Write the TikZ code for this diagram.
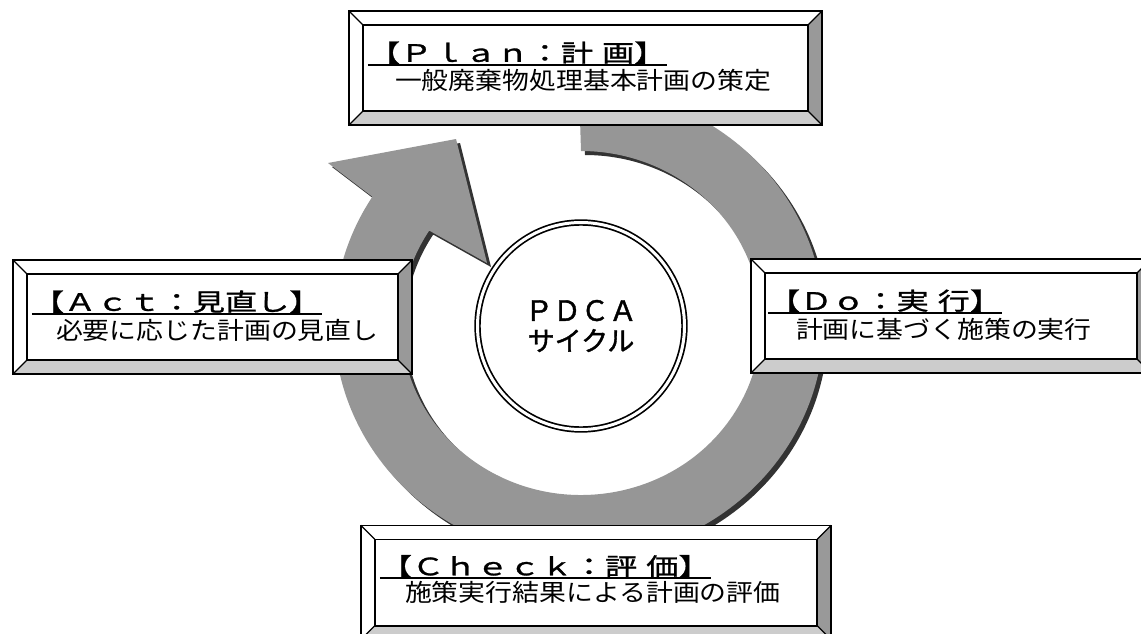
\documentclass[tikz,border=0pt]{standalone}
\usepackage{fontspec}
\newfontfamily\ttlfont[FakeStretch=1.34, FakeBold=1.2]{Noto Sans CJK JP}
\newfontfamily\subfont[FakeStretch=1.12]{Noto Sans CJK JP}
\newfontfamily\cycfont[FakeBold=1.4]{Noto Sans CJK JP}
\usetikzlibrary{calc}
\definecolor{cRing}{RGB}{150,150,150}
\definecolor{cShade}{RGB}{51,51,51}
\definecolor{cSide}{RGB}{153,153,153}
\definecolor{cFoot}{RGB}{204,204,204}

\begin{document}
\begin{tikzpicture}[
  x=1pt, y=-1pt,
  inbox/.style = {inner sep=0pt, minimum height=86pt},
  ttl/.style   = {anchor=base west, inner sep=0pt,
                  font=\ttlfont\fontsize{24}{28}\selectfont},
  sub/.style   = {anchor=base west, inner sep=0pt,
                  font=\subfont\fontsize{24}{28}\selectfont},
  frame/.style = {draw=black, line width=1.6pt},
  uline/.style = {line width=1.8pt},
  cyc/.style   = {circle, draw, fill=white, line width=1.7pt, double=white,
                  double distance=3pt, minimum size=207pt, inner sep=0pt,
                  align=center, font=\cycfont\fontsize{28}{30}\selectfont}
]
\useasboundingbox (0,0) rectangle (1141,634);
\clip (0,0) rectangle (1141,634);

% ------------------------------------------------------ l'anello con la freccia --
\foreach \d/\col in {4/cShade, 0/cRing}
  \fill[fill=\col, shift={(\d,\d)}]
    (579,88) arc[start angle=-90, end angle=212.5, x radius=245, y radius=235]
    -- (328,163) -- (456,139) -- (487,263) -- (429.2,230.6)
    arc[start angle=212.5, end angle=-90, x radius=180, y radius=172] -- cycle;

% ------------------------------------------------------------- le quattro fasi --
\node[inbox, minimum width=445pt] (plan)  at (585.5,68)  {};
\node[inbox, minimum width=372pt] (do)    at (951,316)   {};
\node[inbox, minimum width=442pt] (check) at (596,582.5) {};
\node[inbox, minimum width=371pt] (act)   at (212.5,317) {};

\foreach \b in {plan,do,check,act} {
  \fill[white] ($(\b.north west)+(-14,-14)$) rectangle ($(\b.south east)+(14,14)$);
  \fill[cSide] (\b.north east) -- ($(\b.north east)+(14,-14)$)
    -- ($(\b.south east)+(14,14)$) -- (\b.south east) -- cycle;
  \fill[cFoot] (\b.south west) -- (\b.south east)
    -- ($(\b.south east)+(14,14)$) -- ($(\b.south west)+(-14,14)$) -- cycle;
  \draw[frame] ($(\b.north west)+(-14,-14)$) rectangle ($(\b.south east)+(14,14)$);
  \draw[frame] (\b.north west) rectangle (\b.south east);
  \draw[frame, line width=1.2pt]
    (\b.north west) -- ++(-14,-14) (\b.north east) -- ++(14,-14)
    (\b.south east) -- ++(14,14)   (\b.south west) -- ++(-14,14);
}

% ------------------------------------------------------------------- i testi --
\node[ttl] (planT)  at ($(plan.north west)+(5,37)$)  {【Ｐｌａｎ：計\hspace{9pt}画】};
\node[sub] (planS)  at ($(plan.north west)+(32,65)$) {一般廃棄物処理基本計画の策定};
\node[ttl] (doT)    at ($(do.north west)+(3,37)$)    {【Ｄｏ：実\hspace{9pt}行】};
\node[sub] (doS)    at ($(do.north west)+(31,66)$)   {計画に基づく施策の実行};
\node[ttl] (checkT) at ($(check.north west)+(5,36)$) {【Ｃｈｅｃｋ：評\hspace{9pt}価】};
\node[sub] (checkS) at ($(check.north west)+(30,62)$) {施策実行結果による計画の評価};
\node[ttl] (actT)   at ($(act.north west)+(5,37)$)   {【Ａｃｔ：見直し】};
\node[sub] (actS)   at ($(act.north west)+(29,66)$)  {必要に応じた計画の見直し};

\foreach \t in {planT,doT,checkT,actT}
  \draw[uline] ($(\t.base west)+(0,3)$) -- ($(\t.base east)+(0,3)$);

% ------------------------------------------------------------------ il centro --
\node[cyc] (pdca) at (581,326) {ＰＤＣＡ\\{\fontsize{27}{30}\selectfont サイクル}};

\end{tikzpicture}
\end{document}
